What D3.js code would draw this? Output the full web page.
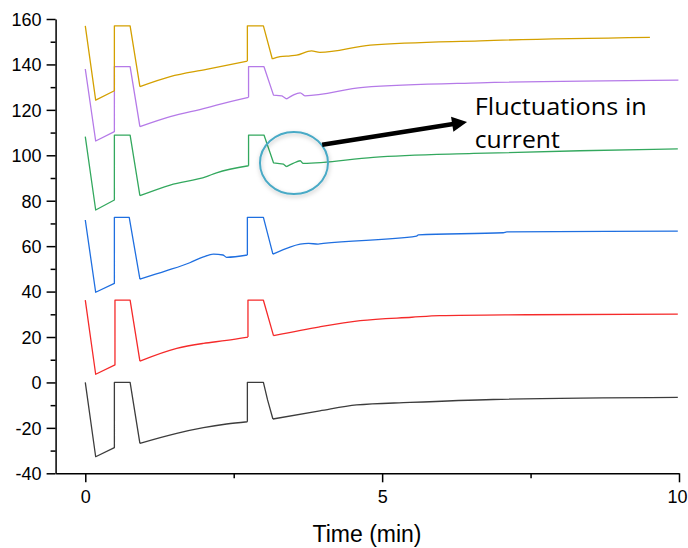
<!DOCTYPE html>
<html>
<head>
<meta charset="utf-8">
<script src="https://cdn.jsdelivr.net/npm/d3@7"></script>
<style>
  html, body { margin: 0; padding: 0; background: #fff; }
  svg { display: block; }
</style>
</head>
<body>
<div id="chart"></div>
<script>
// ---------------- DATA ----------------
const xTickValues = [0, 5, 10];
const xMinorTicks = [2.5, 7.5];
const yTickValues = [-40, -20, 0, 20, 40, 60, 80, 100, 120, 140, 160];
const yMinorTicks = [-30, -10, 10, 30, 50, 70, 90, 110, 130, 150];
const xLabel = "Time (min)";
const annotationLines = ["Fluctuations in", "current"];

const time_black = [0, 0.175, 0.49, 0.49, 0.755, 0.92, 1.54, 1.99, 2.38, 2.73, 2.73, 3.0, 3.07, 3.16, 3.95, 4.57, 5.47, 6.87, 9.98];
const black      = [0, -32.7, -28.7, 0, 0, -26.8, -22.4, -19.9, -18.3, -17.3, 0, 0, -7.7, -16.1, -12.5, -9.9, -8.8, -7.5, -6.6];

const time_red = [0, 0.175, 0.50, 0.50, 0.755, 0.92, 1.54, 1.99, 2.38, 2.74, 2.74, 3.0, 3.17, 3.95, 4.63, 5.5, 5.97, 7.43, 9.98];
const red      = [36.2, 3.6, 7.7, 36.2, 36.2, 9.4, 15.0, 17.2, 18.5, 20.0, 36.2, 36.2, 20.6, 24.5, 27.2, 28.7, 29.4, 29.8, 30.1];

const time_blue = [0, 0.175, 0.49, 0.49, 0.74, 0.92, 1.37, 1.76, 1.99, 2.16, 2.32, 2.38, 2.73, 2.73, 3.0, 3.16, 3.76, 3.92, 4.01, 5.58, 5.61, 7.04, 7.10, 9.98];
const blue      = [71.5, 39.7, 43.6, 72.7, 72.7, 45.5, 49.2, 52.7, 55.3, 56.5, 56.1, 55.1, 56.1, 72.7, 72.7, 56.5, 61.2, 60.9, 61.2, 64.4, 65.0, 65.9, 66.3, 66.6];

const time_green = [0, 0.175, 0.49, 0.49, 0.755, 0.92, 1.43, 2.04, 2.21, 2.75, 2.75, 3.01, 3.17, 3.34, 3.39, 3.5, 3.62, 3.67, 4.85, 6.54, 8.33, 9.98];
const green      = [108.2, 75.9, 80.3, 108.9, 108.9, 82.2, 86.9, 90.6, 92.3, 95.4, 108.9, 108.9, 96.7, 96.1, 95.0, 96.4, 97.6, 96.4, 99.1, 100.8, 102.0, 102.8];

const time_purple = [0, 0.175, 0.49, 0.49, 0.755, 0.92, 1.43, 2.04, 2.21, 2.75, 2.75, 3.01, 3.17, 3.31, 3.39, 3.5, 3.62, 3.7, 4.68, 6.65, 9.99];
const purple      = [138, 106.3, 110.4, 139, 139, 112.6, 117, 120.9, 122.1, 125.5, 139, 139, 126.5, 126.2, 124.8, 126.5, 127.5, 126.2, 129.9, 131.9, 133.1];

const time_orange = [0, 0.175, 0.49, 0.49, 0.755, 0.92, 1.43, 2.04, 2.73, 2.73, 3.0, 3.15, 3.28, 3.45, 3.56, 3.81, 3.95, 4.8, 6.65, 9.51];
const orange      = [157, 124.3, 128.4, 157, 157, 130.2, 134.6, 137.8, 141.5, 157, 157, 142.4, 143.4, 143.8, 144.1, 146.0, 145.3, 148.5, 150.4, 151.9];

// annotation anchor points (data units)
const circleCenter = [3.515, 96.6];
const arrowStart = [3.99, 104.6];
const arrowTip = [6.43, 114.7];
const textAnchor = [6.56, 117.7];

// ---------------- LAYOUT ----------------
const W = 688, H = 548;
const margin = { left: 55.6, top: 19, right: 9, bottom: 74.7 };

const series = [
  { t: time_black,  v: black,  color: "#3c3c3c" },
  { t: time_red,    v: red,    color: "#f52a2a" },
  { t: time_blue,   v: blue,   color: "#1f6fe0" },
  { t: time_green,  v: green,  color: "#33a85e" },
  { t: time_purple, v: purple, color: "#b57ae8" },
  { t: time_orange, v: orange, color: "#d4a000" }
];

const svg = d3.select("#chart").append("svg").attr("width", W).attr("height", H);

const x = d3.scaleLinear().domain([-0.5, 10]).range([margin.left, W - margin.right]);
const y = d3.scaleLinear().domain([-40, 160]).range([H - margin.bottom, margin.top]);

const defs = svg.append("defs");
const sh = defs.append("filter").attr("id", "shadow").attr("x", "-30%").attr("y", "-30%").attr("width", "160%").attr("height", "160%");
sh.append("feDropShadow").attr("dx", 0.5).attr("dy", 2).attr("stdDeviation", 2).attr("flood-color", "#000").attr("flood-opacity", 0.25);

// series lines: linear for the sharp steps, monotone for the slow recovery parts
const linLine = d3.line().x(d => x(d[0])).y(d => y(d[1])).curve(d3.curveLinear);
const smoothLine = d3.line().x(d => x(d[0])).y(d => y(d[1])).curve(d3.curveMonotoneX);

function seriesPath(s) {
  const pts = s.t.map((t, i) => [t, s.v[i]]);
  // indices of vertical jumps (equal times)
  const jumps = [];
  for (let i = 0; i < pts.length - 1; i++) if (pts[i][0] === pts[i + 1][0]) jumps.push(i);
  const j1 = jumps[0], j2 = jumps[1];
  const rec1Start = j1 + 3;            // bottom of first drop
  // bottom of second drop = lowest point among the three after the plateau
  let rec2Start = j2 + 3;
  for (let k = j2 + 3; k <= Math.min(j2 + 5, pts.length - 1); k++) {
    if (pts[k][1] < pts[rec2Start][1]) rec2Start = k;
  }
  return [
    linLine(pts.slice(0, rec1Start + 1)),
    smoothLine(pts.slice(rec1Start, j2 + 1)),
    linLine(pts.slice(j2, rec2Start + 1)),
    smoothLine(pts.slice(rec2Start))
  ].join("");
}

svg.append("g").selectAll("path").data(series).join("path")
  .attr("d", seriesPath)
  .attr("fill", "none")
  .attr("stroke", s => s.color)
  .attr("stroke-width", 1.3)
  .attr("stroke-linejoin", "round");

// axes
const fontAxis = "'Liberation Sans', Arial, sans-serif";
const yAxis = svg.append("g").attr("transform", `translate(${x(-0.5)},0)`)
  .call(d3.axisLeft(y).tickValues(yTickValues).tickSize(9).tickSizeOuter(0).tickPadding(5).tickFormat(d3.format("d")));
svg.append("g").attr("transform", `translate(${x(-0.5)},0)`)
  .call(d3.axisLeft(y).tickValues(yMinorTicks).tickSize(5).tickSizeOuter(0).tickFormat(""))
  .call(g => g.select(".domain").remove());
const xAxis = svg.append("g").attr("transform", `translate(0,${y(-40)})`)
  .call(d3.axisBottom(x).tickValues(xTickValues).tickSize(9).tickSizeOuter(0).tickPadding(8).tickFormat(d3.format("d")));
svg.append("g").attr("transform", `translate(0,${y(-40)})`)
  .call(d3.axisBottom(x).tickValues(xMinorTicks).tickSize(5).tickSizeOuter(0).tickFormat(""))
  .call(g => g.select(".domain").remove());

svg.selectAll(".domain").attr("stroke", "#000").attr("stroke-width", 1.5);
svg.selectAll(".tick line").attr("stroke", "#000").attr("stroke-width", 1.5);
svg.selectAll(".tick text").attr("fill", "#000").style("font-family", fontAxis).style("font-size", "18px");
yAxis.selectAll(".tick text").attr("dy", "0.35em");
yAxis.selectAll(".tick text").text(d => d < 0 ? "-" + Math.abs(d) : d);
xAxis.selectAll(".tick text").attr("dx", d => d === 10 ? -2 : 0);

svg.append("text")
  .attr("x", 367)
  .attr("y", 542)
  .attr("text-anchor", "middle")
  .style("font-family", fontAxis)
  .style("font-size", "23px")
  .attr("fill", "#000")
  .text(xLabel);

// annotation
svg.append("ellipse")
  .attr("cx", x(circleCenter[0])).attr("cy", y(circleCenter[1]))
  .attr("rx", 34).attr("ry", 31)
  .attr("fill", "none").attr("stroke", "#4aaac6").attr("stroke-width", 2)
  .attr("filter", "url(#shadow)");

const ax0 = x(arrowStart[0]), ay0 = y(arrowStart[1]);
const ax1 = x(arrowTip[0]), ay1 = y(arrowTip[1]);
const ang = Math.atan2(ay1 - ay0, ax1 - ax0);
const headLen = 15, headW = 7.5;
const bx = ax1 - headLen * Math.cos(ang), by = ay1 - headLen * Math.sin(ang);
svg.append("line")
  .attr("x1", ax0).attr("y1", ay0).attr("x2", bx + 1 * Math.cos(ang)).attr("y2", by + 1 * Math.sin(ang))
  .attr("stroke", "#000").attr("stroke-width", 4.5);
svg.append("path")
  .attr("d", `M${ax1},${ay1} L${bx - headW * Math.sin(ang)},${by + headW * Math.cos(ang)} L${bx + headW * Math.sin(ang)},${by - headW * Math.cos(ang)} Z`)
  .attr("fill", "#000");

const annWidths = [172, 85];
const ann = svg.append("text")
  .attr("x", x(textAnchor[0])).attr("y", y(textAnchor[1]))
  .style("font-family", "'Open Sans', Lato, sans-serif")
  .style("font-size", "23px")
  .attr("fill", "#000");
ann.selectAll("tspan").data(annotationLines).join("tspan")
  .attr("x", x(textAnchor[0]))
  .attr("dy", (d, i) => i === 0 ? 0 : 33.3)
  .attr("textLength", (d, i) => annWidths[i])
  .attr("lengthAdjust", "spacingAndGlyphs")
  .text(d => d);
</script>
</body>
</html>
